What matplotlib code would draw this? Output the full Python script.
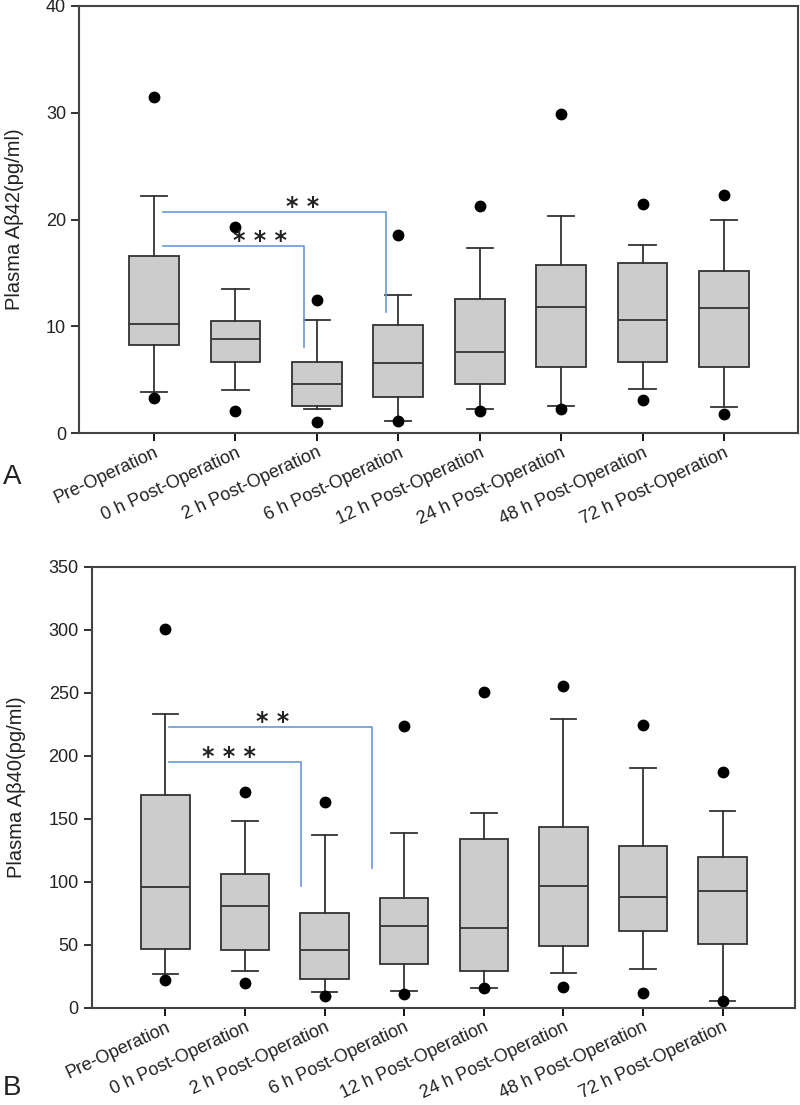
import matplotlib
matplotlib.use("Agg")
import matplotlib.pyplot as plt

plt.rcParams["font.family"] = ["Liberation Sans", "DejaVu Sans"]

categories = ["Pre-Operation", "0 h Post-Operation", "2 h Post-Operation", "6 h Post-Operation",
              "12 h Post-Operation", "24 h Post-Operation", "48 h Post-Operation", "72 h Post-Operation"]

# Panel A: Plasma Abeta42
a_whislo = [3.9, 4.0, 2.25, 1.1, 2.25, 2.55, 4.1, 2.45]
a_q1     = [8.3, 6.7, 2.5, 3.4, 4.6, 6.2, 6.65, 6.2]
a_med    = [10.2, 8.8, 4.6, 6.6, 7.6, 11.8, 10.6, 11.7]
a_q3     = [16.6, 10.5, 6.65, 10.1, 12.6, 15.7, 15.9, 15.2]
a_whishi = [22.2, 13.5, 10.6, 12.9, 17.3, 20.3, 17.6, 20.0]
a_fliers = [[31.5, 3.3], [19.3, 2.1], [12.5, 1.0], [18.6, 1.1],
            [21.3, 2.1], [29.9, 2.25], [21.5, 3.1], [22.3, 1.8]]

# Panel B: Plasma Abeta40
b_whislo = [27, 29, 12.6, 13, 15.3, 27.6, 30.8, 5.3]
b_q1     = [46.3, 45.5, 22.6, 35, 29, 49.2, 61, 50.8]
b_med    = [96, 80.4, 45.5, 64.7, 63.6, 96.5, 87.8, 92.3]
b_q3     = [169, 106, 75, 87, 134, 143.5, 128.3, 120]
b_whishi = [233, 148, 137.5, 138.5, 154.6, 229.5, 190.4, 156]
b_fliers = [[301, 22.4], [171, 20], [163, 9.5], [224, 10.8],
            [250.5, 15.3], [255.8, 16.6], [224.3, 11.8], [187.5, 5.3]]

# significance brackets: (x_start, x_end, y, y_bottom, label, label_x)
a_brackets = [(0.11, 2.85, 20.7, 11.3, "* *", 1.82), (0.11, 1.84, 17.5, 8.1, "* * *", 1.30)]
b_brackets = [(0.05, 2.6, 223, 111, "* *", 1.35), (0.05, 1.71, 195.3, 96.8, "* * *", 0.80)]

EDGE = "#333333"
BLUE = "#6a98d8"

fig = plt.figure(figsize=(8, 11.05), dpi=100)
axA = fig.add_axes([0.099, 0.608, 0.8985, 0.3866])
axB = fig.add_axes([0.115, 0.088, 0.879, 0.399])


def draw(ax, whislo, q1, med, q3, whishi, fliers, ylim, yticks, ylabel, brackets, star_off):
    stats = []
    for i in range(len(categories)):
        stats.append(dict(whislo=whislo[i], q1=q1[i], med=med[i], q3=q3[i],
                          whishi=whishi[i], fliers=fliers[i]))
    pos = list(range(len(categories)))
    ax.bxp(stats, positions=pos, widths=0.61, capwidths=0.32, patch_artist=True,
           boxprops=dict(facecolor="#cccccc", edgecolor=EDGE, linewidth=1.3),
           medianprops=dict(color=EDGE, linewidth=1.3),
           whiskerprops=dict(color=EDGE, linewidth=1.3),
           capprops=dict(color=EDGE, linewidth=1.3),
           flierprops=dict(marker="o", markerfacecolor="black", markeredgecolor="black",
                           markersize=7.5))
    ax.set_xlim(-0.92, 7.91)
    ax.set_ylim(*ylim)
    ax.set_yticks(yticks)
    ax.set_xticks(pos)
    ax.set_xticklabels(categories, rotation=25, ha="right", rotation_mode="anchor",
                       fontsize=13, color="#222222")
    ax.tick_params(axis="y", labelsize=13, colors="#222222", length=6, width=1.3, direction="out")
    ax.tick_params(axis="x", length=6, width=1.3, direction="out", pad=2)
    for s in ax.spines.values():
        s.set_color("#444444")
        s.set_linewidth(1.5)
    ax.set_ylabel(ylabel, fontsize=14.5, color="#222222")
    for (x0, x1, y, yb, lab, lx) in brackets:
        ax.plot([x0, x1, x1], [y, y, yb], color=BLUE, linewidth=1.2)
        ax.text(lx, y + star_off, lab, ha="center", va="center", fontsize=17,
                fontweight="bold", color="#222222", family="DejaVu Sans")


draw(axA, a_whislo, a_q1, a_med, a_q3, a_whishi, a_fliers, (0, 40), [0, 10, 20, 30, 40],
     "Plasma A\u03b242(pg/ml)", a_brackets, 0.5)
draw(axB, b_whislo, b_q1, b_med, b_q3, b_whishi, b_fliers, (0, 350),
     [0, 50, 100, 150, 200, 250, 300, 350], "Plasma A\u03b240(pg/ml)", b_brackets, 4.0)
axA.yaxis.set_label_coords(-0.077, 0.5)
axB.yaxis.set_label_coords(-0.094, 0.5)

fig.text(0.004, 0.557, "A", fontsize=20, color="#222222", va="bottom")
fig.text(0.004, 0.004, "B", fontsize=20, color="#222222", va="bottom")

fig.savefig("out.png", dpi=100)
